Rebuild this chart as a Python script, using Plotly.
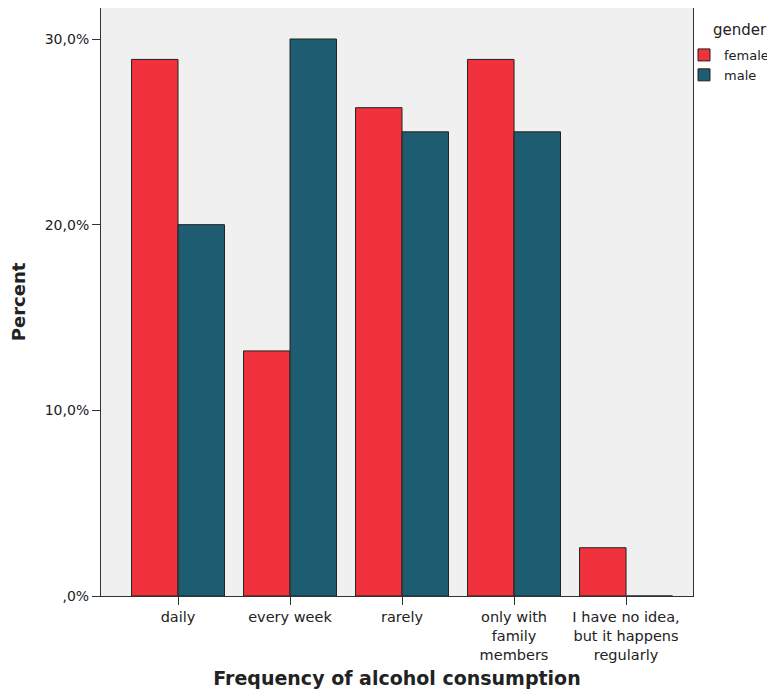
import plotly.graph_objects as go

categories = ["daily", "every week", "rarely", "only with<br>family<br>members",
              "I have no idea,<br>but it happens<br>regularly"]
female = [28.9, 13.2, 26.3, 28.9, 2.6]
male = [20.0, 30.0, 25.0, 25.0, 0.0]
ytick_vals = [0, 10, 20, 30]
ytick_text = [",0%", "10,0%", "20,0%", "30,0%"]
legend_title = "gender"

font = "DejaVu Sans, Verdana, sans-serif"

fig = go.Figure()
fig.add_trace(go.Bar(name="female", x=categories, y=female,
                     marker=dict(color="#F0323C", line=dict(color="#222222", width=1))))
fig.add_trace(go.Bar(name="male", x=categories, y=male,
                     marker=dict(color="#1E5C72", line=dict(color="#222222", width=1))))

# page has an 8px body margin, so the figure is sized/offset to compensate
fig.update_layout(
    width=767, height=685,
    margin=dict(l=93, r=82, t=0, b=97, autoexpand=False),
    barmode="group", bargap=0.17, bargroupgap=0,
    plot_bgcolor="#F0F0F0", paper_bgcolor="white",
    font=dict(family=font, size=14, color="#222222"),
    showlegend=True,
    legend=dict(x=0.9848, y=0.9456, xanchor="left", yanchor="top",
                bgcolor="rgba(0,0,0,0)",
                font=dict(size=13), tracegroupgap=0, itemwidth=30),
    annotations=[dict(text=legend_title, xref="paper", yref="paper",
                      x=1.0305, y=0.9626, xanchor="left", yanchor="middle",
                      showarrow=False, font=dict(size=15, color="#222222"))],
)
fig.update_xaxes(
    range=[-0.6875, 4.598], automargin=False,
    showline=True, linecolor="#333333", linewidth=1, mirror=True,
    ticks="outside", ticklen=8, tickcolor="#333333",
    tickfont=dict(size=14.5),
    title=dict(text="<b>Frequency of alcohol consumption</b>", font=dict(size=19), standoff=9),
)
fig.update_yaxes(
    range=[0, 31.67], automargin=False,
    tickvals=ytick_vals, ticktext=ytick_text,
    showgrid=False, zeroline=False,
    showline=True, linecolor="#333333", linewidth=1, mirror=True,
    ticks="outside", ticklen=8, tickcolor="#333333",
    tickfont=dict(size=14),
    title=dict(text="<b>Percent</b>", font=dict(size=18), standoff=14),
)

fig.write_html("out.html")
